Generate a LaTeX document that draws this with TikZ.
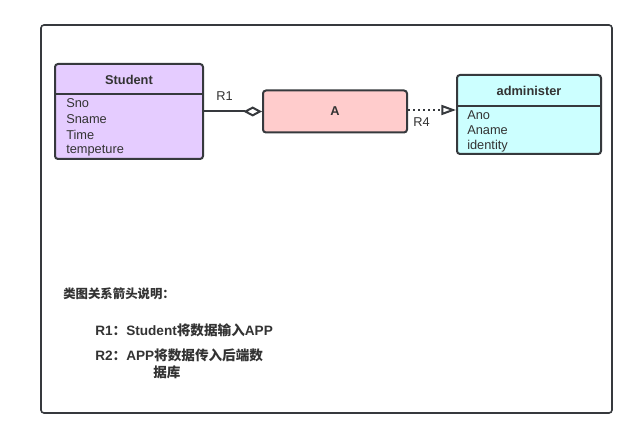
\documentclass[tikz,border=0pt]{standalone}
\usepackage{fontspec}
\setmainfont{Liberation Sans}
\newfontfamily\cjk{Noto Sans CJK SC}
\usetikzlibrary{arrows.meta}
\newlength\pxu
\setlength\pxu{0.75pt}
\definecolor{edge}{HTML}{36393D}
\definecolor{stufill}{HTML}{E5CCFF}
\definecolor{afill}{HTML}{FFCCCC}
\definecolor{admfill}{HTML}{CCFFFF}
\definecolor{txt}{HTML}{333333}
\tikzset{
  box/.style={draw=edge, line width=2\pxu, rounded corners=3\pxu, inner sep=0pt},
  attr/.style={anchor=west, inner sep=0pt, font=\fontsize{9.6}{11}\selectfont, text=txt},
  head/.style={inner sep=0pt, font=\fontsize{9.6}{11}\selectfont\bfseries, text=txt},
  note/.style={anchor=west, inner sep=0pt, font=\fontsize{10.2}{12}\selectfont\bfseries, text=txt},
  conn/.style={draw=edge, line width=2\pxu},
}
\begin{document}
\begin{tikzpicture}[x=0.75pt, y=-0.75pt]
\useasboundingbox (0,0) rectangle (637,438);
\fill[white] (0,0) rectangle (637,438);
\draw[draw=edge, line width=1.6\pxu, rounded corners=3\pxu] (41,25) rectangle (612,413);

% Student
\node[box, fill=stufill, minimum width=148\pxu, minimum height=95\pxu] (student) at (129,111.5) {};
\draw[draw=edge, line width=1.6\pxu] (55,94) -- (203,94);
\node[head] (stuh) at (129,80) {Student};
\node[attr] (s1) at (66,103) {Sno};
\node[attr] (s2) at (66,119) {Sname};
\node[attr] (s3) at (66,135) {Time};
\node[attr] (s4) at (66,151) {tempeture};

% A
\node[box, fill=afill, minimum width=144\pxu, minimum height=42\pxu, font=\fontsize{9.6}{11}\selectfont\bfseries, text=txt] (A) at (335,111.5) {A};

% administer
\node[box, fill=admfill, minimum width=144\pxu, minimum height=79\pxu] (adm) at (529,114.5) {};
\draw[draw=edge, line width=1.6\pxu] (457,106) -- (601,106);
\node[head] (admh) at (529,91) {administer};
\node[attr] (a1) at (467,115) {Ano};
\node[attr] (a2) at (467,130) {Aname};
\node[attr] (a3) at (467,146) {identity};

% connectors
\draw[conn, -{Diamond[open, length=14pt, width=7.5pt]}] (student.east) -- (A.west);
\node[attr] (r1) at (216,96) {R1};
\draw[conn, dash pattern=on 2\pxu off 3\pxu, -{Triangle[open, length=11pt, width=7.5pt]}] ([yshift=1.5\pxu]A.east) -- ([yshift=1.5\pxu]A.east -| adm.west);
\node[attr] (r4) at (413,122) {R4};

% notes
\node[note, font=\fontsize{9.3}{11}\selectfont\cjk\bfseries] (n0) at (63,294) {类图关系箭头说明：};
\node[note] (n1) at (95,330) {R1{\cjk ：}Student{\cjk 将数据输入}APP};
\node[note] (n2) at (95,355) {R2{\cjk ：}APP{\cjk 将数据传入后端数}};
\node[note] (n3) at (153,372) {{\cjk 据库}};
\end{tikzpicture}
\end{document}
